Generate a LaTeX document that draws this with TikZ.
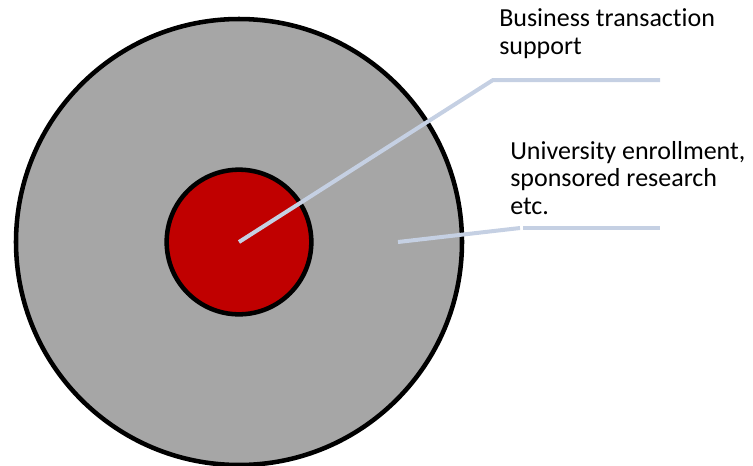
\documentclass[tikz,border=0pt]{standalone}
\usepackage{fontspec}
\setmainfont{Carlito}[Ligatures=NoCommon]
\usetikzlibrary{positioning}
\definecolor{ringgray}{HTML}{A6A6A6}
\definecolor{corered}{HTML}{C00000}
\definecolor{leaderblue}{HTML}{C5D0E3}

\begin{document}
\begin{tikzpicture}[x=0.75pt, y=-0.75pt, every node/.style={font=\fontsize{19.5}{20.3}\selectfont},
  ring/.style={circle, draw=black, line width=3.4pt, inner sep=0pt},
  leader/.style={draw=leaderblue, line width=3pt}]
\useasboundingbox (0,0) rectangle (753,465);
% two rings
\node[ring, fill=ringgray, minimum size=334.5pt] (outer) at (239,242) {};
\node[ring, fill=corered, minimum size=108.5pt] (core) at (239,242) {};
% labels (base anchor sits on the last line)
\node[anchor=base west, align=left, inner sep=0pt] (business) at (499,54) {Business transaction\\support};
\node[anchor=base west, align=left, inner sep=0pt] (university) at (510,214) {University enrollment,\\sponsored research\\etc.};
% leader lines
\coordinate (bend1) at (493,80);
\coordinate (end1) at (660,80);
\coordinate (tip2) at (398,242);
\coordinate (bend2) at (520,228);
\coordinate (start2) at (523,228);
\coordinate (end2) at (660,228);
\draw[leader] (core.center) -- (bend1) -- (end1);
\draw[leader] (tip2) -- (bend2);
\draw[leader] (start2) -- (end2);
\end{tikzpicture}
\end{document}
